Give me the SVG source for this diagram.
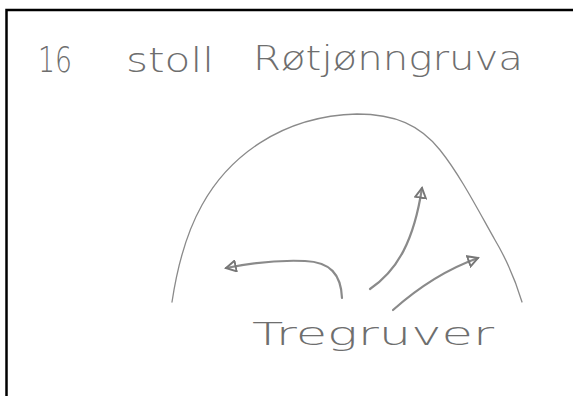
<svg xmlns="http://www.w3.org/2000/svg" width="573" height="396" viewBox="0 0 573 396">
<defs>
<style>
.frame{stroke:#000;stroke-width:2.5;fill:none}
.hand{font-family:"DejaVu Sans","Liberation Sans",sans-serif;font-weight:300;fill:#6e6e6e}
.pen{fill:none;stroke:#8a8a8a;stroke-linecap:round;stroke-linejoin:round}
</style>
<marker id="open" viewBox="0 0 12 12" refX="10" refY="6" markerWidth="13" markerHeight="13" markerUnits="userSpaceOnUse" orient="auto">
<path d="M1,1 L10,6 L1,11 Z" fill="none" stroke="#777" stroke-width="1.8"/>
</marker>
</defs>
<rect width="573" height="396" fill="#fff"/>
<path class="frame" d="M6.5,396 V10 H573"/>
<g id="title">
<text class="hand" x="38" y="72" font-size="36" textLength="34" lengthAdjust="spacingAndGlyphs">16</text>
<text class="hand" x="126" y="72" font-size="34" textLength="88" lengthAdjust="spacingAndGlyphs">stoll</text>
<text class="hand" x="253" y="70" font-size="34" textLength="270" lengthAdjust="spacingAndGlyphs">Røtjønngruva</text>
</g>
<g id="hill">
<path class="pen" stroke-width="1.3" d="M172,302 C178,262 188,230 202,205 C228,158 280,116 357,114 C395,114 420,125 440,150 C460,175 478,210 495,240 C508,262 516,282 522,302"/>
</g>
<g id="connectors">
<path class="pen" stroke-width="2.2" marker-end="url(#open)" d="M342,298 C341,274 330,262 305,261 C280,260 250,263 226,268"/>
<path class="pen" stroke-width="2.2" marker-end="url(#open)" d="M370,289 C398,270 414,240 422,188"/>
<path class="pen" stroke-width="2.2" marker-end="url(#open)" d="M393,310 C420,286 450,268 478,258"/>
</g>
<g id="label">
<text class="hand" x="252" y="345" font-size="32" textLength="242" lengthAdjust="spacingAndGlyphs">Tregruver</text>
</g>
</svg>
